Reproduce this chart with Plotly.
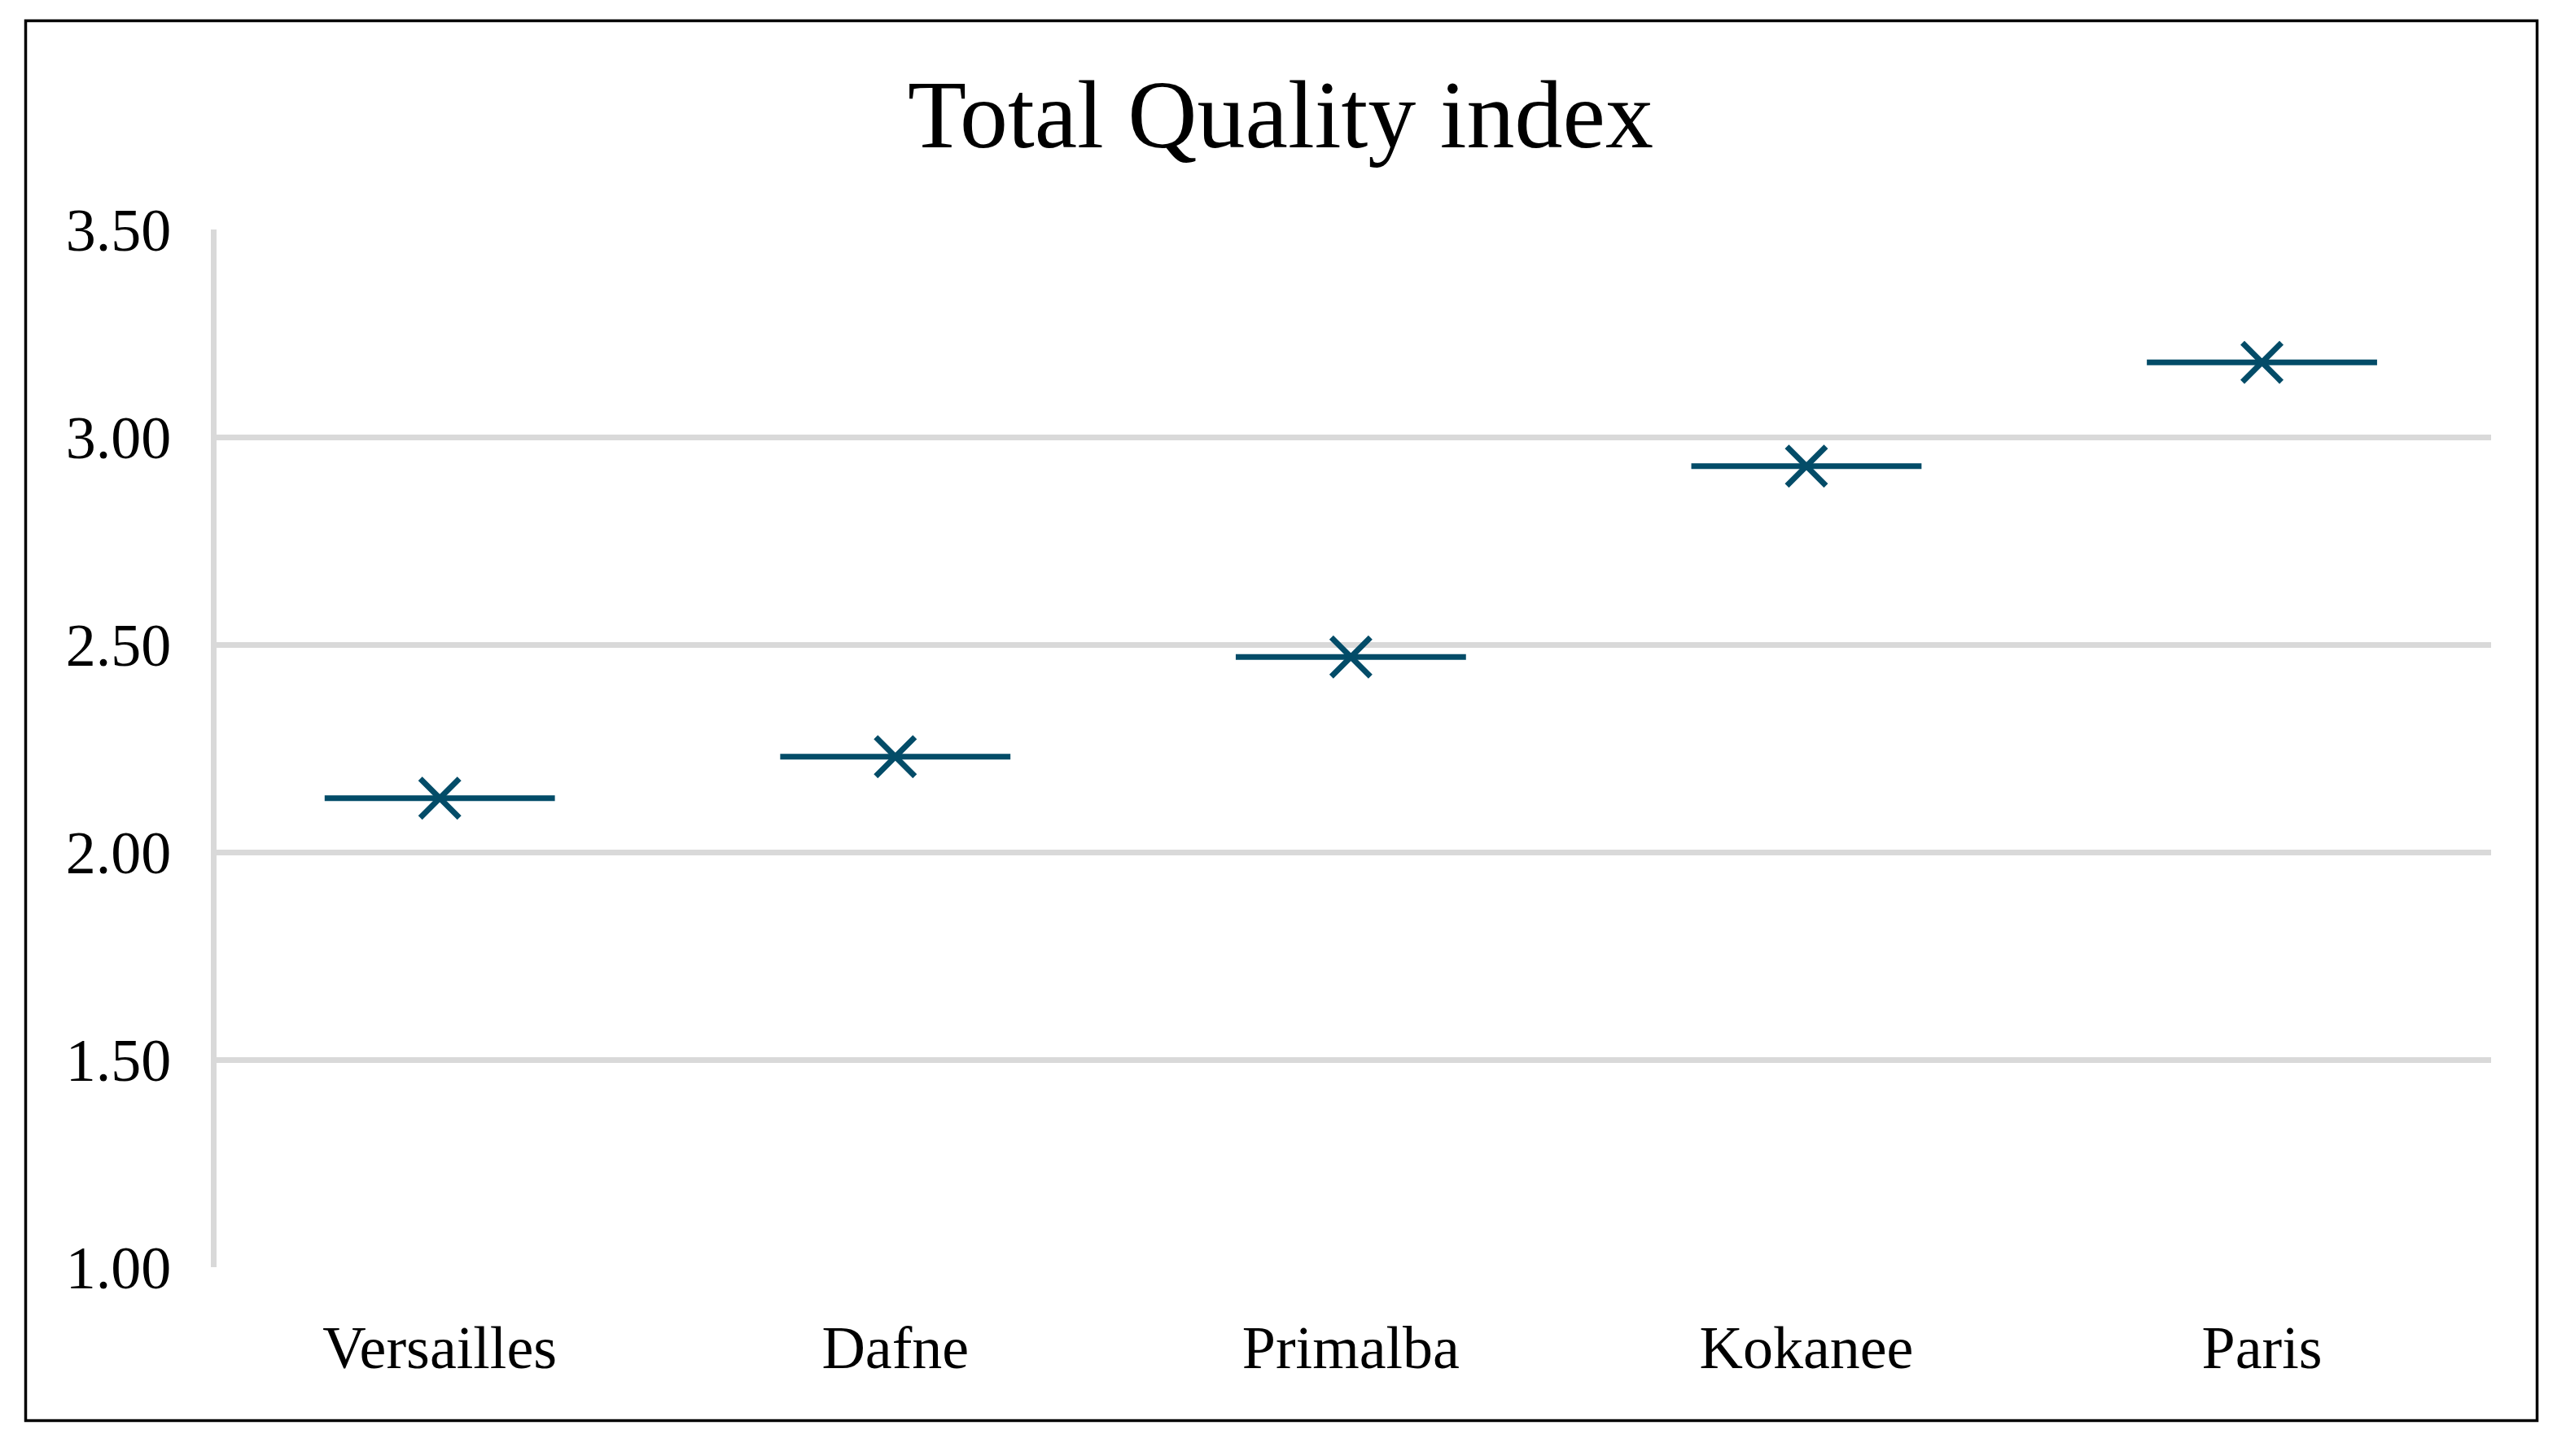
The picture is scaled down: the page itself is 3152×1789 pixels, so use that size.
import plotly.graph_objects as go

# ---- data ----
categories = ["Versailles", "Dafne", "Primalba", "Kokanee", "Paris"]
quality_index = [2.13, 2.23, 2.47, 2.93, 3.18]
y_tick_values = [1.0, 1.5, 2.0, 2.5, 3.0, 3.5]
y_tick_labels = ["1.00", "1.50", "2.00", "2.50", "3.00", "3.50"]
title_text = "Total Quality index"

# page body has an 8px default margin: lay out in page pixels, then offset
OFF = 8
PAGE_W, PAGE_H = 3152, 1789
W, H = PAGE_W - 2 * OFF, PAGE_H - 2 * OFF

plot_left_abs, plot_right_abs = 266, 3060
plot_top_abs, plot_bottom_abs = 282, 1557
L = plot_left_abs - OFF
R = W - (plot_right_abs - OFF)
T = plot_top_abs - OFF
B = H - (plot_bottom_abs - OFF)

FONT = "Times New Roman, Liberation Serif, serif"
MARK = "#034C68"
GRID = "#D9D9D9"

fig = go.Figure()
fig.add_trace(go.Scatter(
    x=categories, y=quality_index, mode="markers",
    marker=dict(symbol="line-ew-open", size=202, color=MARK,
                line=dict(color=MARK, width=7)),
    hoverinfo="skip", showlegend=False,
))
fig.add_trace(go.Scatter(
    x=categories, y=quality_index, mode="markers",
    marker=dict(symbol="x-thin-open", size=48, color=MARK,
                line=dict(color=MARK, width=7)),
    showlegend=False,
))

pw = W - L - R
ph = H - T - B
def px_to_paper_x(px_abs):
    return (px_abs - OFF - L) / pw
def px_to_paper_y(py_abs):
    return (H - B - (py_abs - OFF)) / ph

fig.add_shape(type="rect", xref="paper", yref="paper",
              x0=px_to_paper_x(31.5), x1=px_to_paper_x(3116.5),
              y0=px_to_paper_y(1745.5), y1=px_to_paper_y(25.5),
              line=dict(color="black", width=3.5), fillcolor="rgba(0,0,0,0)",
              layer="above")

fig.update_layout(
    width=W, height=H,
    margin=dict(l=L, r=R, t=T, b=B, autoexpand=False),
    paper_bgcolor="white", plot_bgcolor="white",
    title=dict(text=title_text, x=(1573 - OFF) / W, xanchor="center",
               xref="container",
               y=1 - 132 / H, yanchor="middle", yref="container",
               font=dict(family=FONT, size=118, color="black")),
    font=dict(family=FONT, color="black"),
)
fig.update_xaxes(
    type="category", range=[-0.49, 4.503],
    showgrid=False, showline=False, zeroline=False,
    ticks="outside", ticklen=34, tickcolor="rgba(0,0,0,0)",
    tickfont=dict(family=FONT, size=74, color="black"),
)
fig.update_yaxes(
    range=[1.0, 3.5], tickvals=y_tick_values, ticktext=y_tick_labels,
    showgrid=True, gridcolor=GRID, gridwidth=6.7,
    showline=True, linecolor=GRID, linewidth=6.7, zeroline=False,
    ticks="outside", ticklen=34, tickcolor="rgba(0,0,0,0)",
    tickfont=dict(family=FONT, size=74, color="black"),
)

fig.write_html("out.html")
